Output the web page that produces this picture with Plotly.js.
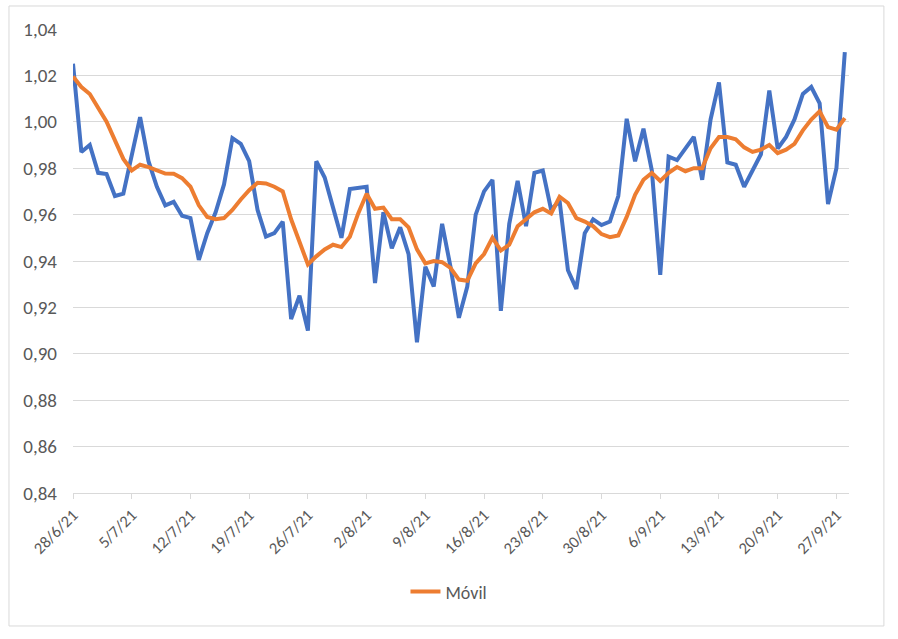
<!DOCTYPE html>
<html>
<head>
<meta charset="utf-8">
<script src="https://cdn.plot.ly/plotly-3.0.1.min.js"></script>
<style>html,body{margin:0;padding:0;background:#fff;}#chart{width:898px;height:639px;}</style>
</head>
<body>
<div id="chart"></div>
<script>
const startDate = '2021-06-28';
const seriesName = 'Móvil';
const blueValues = [
1.025,0.987,0.990,0.978,0.9775,0.968,0.969,0.985,1.002,0.983,
0.972,0.964,0.9655,0.9595,0.9585,0.9405,0.952,0.961,0.973,0.993,
0.9905,0.983,0.962,0.9505,0.952,0.957,0.915,0.925,0.910,0.983,
0.976,0.963,0.950,0.971,0.9715,0.972,0.9305,0.961,0.9455,0.9545,
0.943,0.905,0.9375,0.929,0.956,0.9375,0.9155,0.929,0.960,0.970,
0.975,0.9185,0.956,0.9745,0.955,0.978,0.979,0.962,0.966,0.936,
0.928,0.952,0.958,0.9555,0.957,0.968,1.0013,0.983,0.997,0.979,
0.934,0.985,0.9835,0.9885,0.9935,0.975,1.001,1.017,0.9825,0.9815,
0.972,0.979,0.986,1.0135,0.9885,0.9935,1.001,1.012,1.015,1.008,
0.9645,0.980,1.030
];
const movilValues = [
1.0195,1.015,1.012,1.006,1.000,0.992,0.984,0.979,0.9815,0.9805,
0.979,0.9777,0.9776,0.9757,0.972,0.964,0.959,0.958,0.9585,0.962,
0.9665,0.9705,0.9737,0.9734,0.972,0.970,0.958,0.948,0.9385,0.942,
0.945,0.947,0.946,0.9505,0.9605,0.969,0.9625,0.963,0.958,0.958,
0.9545,0.945,0.939,0.940,0.9395,0.937,0.932,0.9315,0.939,0.943,
0.950,0.9445,0.947,0.955,0.958,0.961,0.9625,0.9605,0.9677,0.965,
0.9585,0.957,0.955,0.9516,0.9503,0.951,0.959,0.9685,0.975,0.978,
0.9745,0.978,0.9805,0.9787,0.980,0.980,0.9886,0.9934,0.9934,0.9925,
0.989,0.987,0.988,0.990,0.9865,0.988,0.9905,0.9963,1.001,1.0045,
0.9977,0.9966,1.0016
];
const yTickValues = [0.84,0.86,0.88,0.90,0.92,0.94,0.96,0.98,1.00,1.02,1.04];

// daily dates for the category axis
const dates = [];
(function(){
  const d0 = new Date(startDate + 'T00:00:00Z');
  for (let i = 0; i < blueValues.length; i++) {
    const d = new Date(d0.getTime() + i*86400000);
    dates.push(d.toISOString().slice(0,10));
  }
})();

const FONT = "Carlito, 'Liberation Sans Narrow', 'Liberation Sans', Arial, sans-serif";

const traces = [
  {x: dates, y: blueValues, type:'scatter', mode:'lines', name:'Serie', showlegend:false,
   line:{color:'#4472C4', width:4, shape:'linear'}, hoverinfo:'skip'},
  {x: dates, y: movilValues, type:'scatter', mode:'lines', name: seriesName, showlegend:true,
   line:{color:'#ED7D31', width:4, shape:'linear'}, hoverinfo:'skip'}
];

const layout = {
  width: 898, height: 639,
  margin: {l:73, r:49, t:29, b:146},
  paper_bgcolor:'#ffffff', plot_bgcolor:'#ffffff',
  separators: ',.',
  showlegend: true,
  font: {family: FONT, size: 18, color:'#595959'},
  xaxis: {
    type:'date',
    range:['2021-06-28', '2021-09-28 12:00'],
    tick0:'2021-06-28', dtick: 7*86400000,
    tickformat:'%-d/%-m/%y',
    tickangle:-45,
    showgrid:false, zeroline:false,
    showline:true, linecolor:'#D9D9D9', linewidth:1,
    ticks:'outside', ticklen:5, tickcolor:'#D9D9D9',
    tickfont:{family: FONT, size:16.5, color:'#595959'},
    fixedrange:true
  },
  yaxis: {
    range:[0.84, 1.04],
    tickvals: yTickValues,
    tickformat:'.2f',
    showgrid:true, gridcolor:'#D9D9D9', gridwidth:1,
    zeroline:false, showline:false, ticks:'',
    ticklabelstandoff: 15,
    tickfont:{family: FONT, size:19, color:'#595959'},
    fixedrange:true
  },
  legend: {
    orientation:'h', x:0.4845, xanchor:'center', y:-0.213, yanchor:'middle',
    font:{family: FONT, size:18, color:'#595959'}, bgcolor:'rgba(0,0,0,0)'
  },
  shapes: [
    {type:'rect', xref:'paper', yref:'paper', x0:-0.0825, x1:1.045, y0:-0.2866, y1:1.0496,
     line:{color:'#D9D9D9', width:1}, fillcolor:'rgba(0,0,0,0)', layer:'below'}
  ]
};

Plotly.newPlot('chart', traces, layout, {staticPlot:true, displayModeBar:false});
</script>
</body>
</html>
